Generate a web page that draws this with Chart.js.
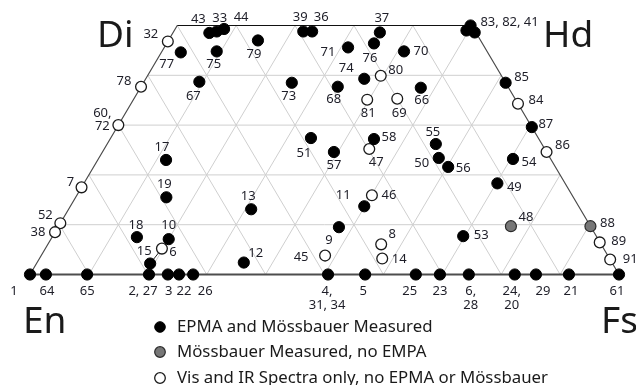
<!DOCTYPE html>
<html>
<head>
<meta charset="utf-8">
<script src="https://cdn.jsdelivr.net/npm/chart.js@4.4.1/dist/chart.umd.min.js"></script>
<style>
  html, body { margin: 0; padding: 0; background: #fff; }
  #wrap { width: 636px; height: 385px; }
</style>
</head>
<body>
<div id="wrap"><canvas id="quad" width="636" height="385"></canvas></div>
<script>
(function () {
  "use strict";

  // pyroxene compositions: Wo and Fs in mol %
  var epmaIds = ["43", "33", "44", "77", "75", "79", "67", "73", "39", "36", "37", "76", "71", "70", "74", "68", "66",
    "83, 82, 41", "", "", "85", "87", "51", "17", "19", "13", "18", "10", "15", "12", "9", "11", "58", "57", "55", "50",
    "56", "54", "49", "53", "1", "64", "65", "2, 27", "3", "22", "26", "4,\n31, 34", "5", "25", "23", "6,\n28", "24,\n20",
    "29", "21", "61"];
  var epmaWo = [48.5, 48.8, 49.3, 44.6, 44.8, 47.0, 38.7, 38.5, 48.8, 48.8, 48.6, 46.4, 45.6, 44.8, 39.3, 37.7, 37.5,
    50.0, 49.0, 48.6, 38.5, 29.6, 27.4, 23.0, 15.5, 13.1, 7.5, 7.1, 2.2, 2.4, 9.5, 13.7, 27.2, 24.6, 26.2, 23.4,
    21.6, 23.2, 18.3, 7.7, 0, 0, 0, 0, 0, 0, 0, 0, 0, 0, 0, 0, 0,
    0, 0, 0];
  var epmaFs = [6.2, 7.3, 8.3, 3.3, 9.3, 15.2, 9.4, 25.2, 22.0, 23.5, 35.1, 35.2, 31.2, 41.1, 37.1, 33.4, 47.6,
    49.8, 49.6, 51.2, 61.5, 70.4, 34.0, 11.6, 15.4, 31.0, 14.4, 20.0, 19.3, 35.1, 47.7, 49.9, 44.8, 39.3, 55.8, 57.7,
    60.2, 70.4, 70.2, 69.7, 0, 2.7, 9.7, 20.2, 23.4, 25.3, 27.7, 50.6, 56.9, 65.5, 69.6, 74.5, 82.3,
    85.9, 91.5, 100];

  var mossIds = ["48", "88"];
  var mossWo = [9.7, 9.7];
  var mossFs = [76.8, 90.3];

  var visIds = ["32", "78", "60,\n72", "7", "52", "38", "80", "81", "69", "84", "86", "89", "91", "6", "45", "46", "47", "8", "14"];
  var visWo = [46.8, 37.7, 30.0, 17.5, 10.3, 8.5, 39.9, 35.1, 35.3, 34.3, 24.6, 6.45, 3.0, 5.2, 3.8, 15.9, 25.2, 6.05, 3.2];
  var visFs = [0, 0, 0, 0, 0, 0, 39.6, 39.7, 44.7, 65.7, 75.4, 93.5, 97.0, 19.8, 48.2, 50.1, 45.0, 56.6, 58.2];

  // tie line between sample 15 and sample 6
  var tieIds = ["15", "6"];

  var seriesNames = ["EPMA and Mössbauer Measured", "Mössbauer Measured, no EMPA", "Vis and IR Spectra only, no EPMA or Mössbauer"];
  var gridSteps = [10, 20, 30, 40, 50, 60, 70, 80, 90];
  var woSteps = [10, 20, 30, 40];

  // label offsets (px) from the point centre
  var labelOffset = {
    "32": [-17, -7], "43": [-11, -14], "33": [3, -13], "44": [17, -12], "77": [-14, 12], "75": [-3, 13],
    "79": [-4, 14], "78": [-17, -5], "67": [-6, 15], "73": [-3, 14], "60,\n72": [-16, -12], "39": [-3, -14],
    "36": [9, -14], "37": [2, -14], "76": [-4, 15], "71": [-20, 5], "70": [17, 0], "74": [-18, -10],
    "80": [15, -6], "68": [-4, 13], "81": [1, 14], "69": [2, 15], "66": [1, 13], "83, 82, 41": [39, -3],
    "85": [16, -5], "84": [18, -3], "87": [14, -3], "51": [-7, 15], "17": [-4, -13], "7": [-11, -5],
    "19": [-2, -13], "13": [-3, -13], "52": [-15, -8], "38": [-17, 0], "18": [-1, -12], "10": [0, -14],
    "15": [-6, -12], "6": [11, 4], "12": [12, -9], "45": [-24, 2], "9": [-10, 13], "11": [-21, -11],
    "46": [17, 0], "58": [15, -2], "47": [7, 13], "57": [0, 13], "55": [-3, -12], "50": [-17, 5],
    "56": [15, 1], "54": [16, 3], "86": [16, -7], "49": [17, 4], "48": [15, -9], "88": [17, -3],
    "89": [19, -1], "91": [20, 0], "53": [18, -1], "8": [11, -10], "14": [17, 1],
    "1": [-16, 17], "64": [1, 17], "65": [0, 17], "2, 27": [-6, 17], "3": [1, 17], "22": [5, 17],
    "26": [12, 17], "4,\n31, 34": [-1, 17], "5": [-2, 17], "25": [-6, 17], "23": [0, 17], "6,\n28": [2, 17],
    "24,\n20": [-3, 17], "29": [7, 17], "21": [2, 17], "61": [-2, 17]
  };

  var FONT = "'Noto Sans', 'Open Sans', sans-serif";

  // ternary -> quadrilateral plot coordinates
  function toXY(wo, fs) { return { x: fs + wo / 2, y: wo }; }
  function series(wo, fs) { return wo.map(function (w, i) { return toXY(w, fs[i]); }); }
  function findPt(id) {
    var i = epmaIds.indexOf(id);
    if (i >= 0) return toXY(epmaWo[i], epmaFs[i]);
    i = visIds.indexOf(id);
    return toXY(visWo[i], visFs[i]);
  }

  var framePlugin = {
    id: "quadFrame",
    beforeDatasetsDraw: function (chart) {
      var ctx = chart.ctx, xs = chart.scales.x, ys = chart.scales.y;
      function line(a, b) {
        ctx.moveTo(xs.getPixelForValue(a.x), ys.getPixelForValue(a.y));
        ctx.lineTo(xs.getPixelForValue(b.x), ys.getPixelForValue(b.y));
      }
      ctx.save();
      ctx.strokeStyle = "#cfcfcf";
      ctx.lineWidth = 1;
      ctx.beginPath();
      woSteps.forEach(function (w) { line(toXY(w, 0), toXY(w, 100 - w)); });
      gridSteps.forEach(function (c) {
        var top = Math.min(50, 100 - c);
        line(toXY(0, c), toXY(top, c));            // Fs = c
        line(toXY(0, 100 - c), toXY(top, 100 - c - top)); // En = c
      });
      ctx.stroke();

      ctx.strokeStyle = "#4a4a4a";
      ctx.lineWidth = 1.2;
      ctx.beginPath();
      line(toXY(0, 0), toXY(50, 0));
      line(toXY(50, 50), toXY(0, 100));
      ctx.stroke();
      ctx.strokeStyle = "#111";
      ctx.lineWidth = 1;
      ctx.beginPath();
      line(toXY(50, 0), toXY(50, 50));
      ctx.stroke();
      ctx.strokeStyle = "#4d4d4d";
      ctx.lineWidth = 2;
      ctx.beginPath();
      line(toXY(0, 0), toXY(0, 100));
      ctx.stroke();
      ctx.restore();
    },
    afterDatasetsDraw: function (chart) {
      var ctx = chart.ctx;
      ctx.save();
      ctx.font = "13px " + FONT;
      ctx.fillStyle = "#1e1e28";
      ctx.textAlign = "center";
      ctx.textBaseline = "middle";
      chart.data.datasets.forEach(function (ds, di) {
        if (!ds.ids) return;
        chart.getDatasetMeta(di).data.forEach(function (el, i) {
          var t = ds.ids[i];
          if (!t) return;
          var off = labelOffset[t] || [12, 0];
          t.split("\n").forEach(function (ln, k) {
            ctx.fillText(ln, el.x + off[0], el.y + off[1] + k * 13.5);
          });
        });
      });
      ctx.restore();
    },
    afterDraw: function (chart) {
      var ctx = chart.ctx;
      ctx.save();
      ctx.fillStyle = "#1a1a1a";
      ctx.font = "37px " + FONT;
      ctx.textBaseline = "alphabetic";
      ctx.textAlign = "left";
      ctx.fillText("Di", 97, 47);
      ctx.fillText("Hd", 543, 47);
      ctx.fillText("En", 23, 333);
      ctx.fillText("Fs", 601, 333);

      // legend
      ctx.font = "16.8px " + FONT;
      ctx.textBaseline = "middle";
      var rows = [327, 352, 378];
      chart.data.datasets.forEach(function (ds, di) {
        if (!ds.ids) return;
        var y = rows[di];
        ctx.beginPath();
        ctx.arc(160, y, 5.3, 0, Math.PI * 2);
        ctx.fillStyle = ds.backgroundColor;
        ctx.fill();
        ctx.lineWidth = ds.borderWidth;
        ctx.strokeStyle = ds.borderColor;
        ctx.stroke();
        ctx.fillStyle = "#1a1a1a";
        ctx.fillText(ds.label, 177, y);
      });
      ctx.restore();
    }
  };

  new Chart(document.getElementById("quad"), {
    type: "scatter",
    data: {
      datasets: [
        { label: seriesNames[0], ids: epmaIds, data: series(epmaWo, epmaFs),
          backgroundColor: "#000", borderColor: "#000", borderWidth: 1, pointRadius: 5.6, clip: false, order: 1 },
        { label: seriesNames[1], ids: mossIds, data: series(mossWo, mossFs),
          backgroundColor: "#777", borderColor: "#2a2a2a", borderWidth: 1.2, pointRadius: 5.5, clip: false, order: 1 },
        { label: seriesNames[2], ids: visIds, data: series(visWo, visFs),
          backgroundColor: "#fff", borderColor: "#1a1a1a", borderWidth: 1.3, pointRadius: 5.4, clip: false, order: 1 },
        { type: "line", label: "tie", data: tieIds.map(findPt), borderColor: "#222", borderWidth: 1,
          pointRadius: 0, showLine: true, clip: false, order: 5 }
      ]
    },
    options: {
      responsive: false,
      animation: false,
      devicePixelRatio: 1,
      layout: { padding: { left: 30, right: 17, top: 25.5, bottom: 110.5 } },
      scales: {
        x: { type: "linear", min: 0, max: 100, display: false },
        y: { type: "linear", min: 0, max: 50, display: false }
      },
      plugins: { legend: { display: false }, tooltip: { enabled: false } }
    },
    plugins: [framePlugin]
  });
})();
</script>
</body>
</html>
